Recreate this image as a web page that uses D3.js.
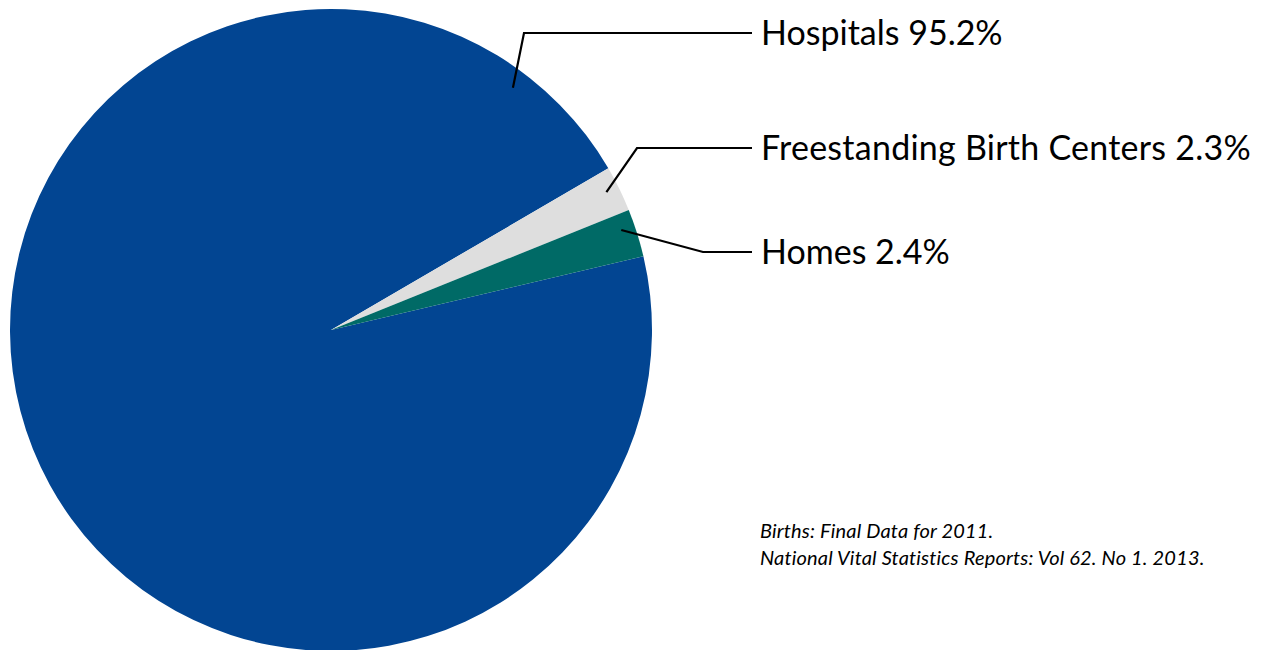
<!DOCTYPE html>
<html>
<head>
<meta charset="utf-8">
<script src="https://cdn.jsdelivr.net/npm/d3@7"></script>
<style>
  html, body { margin: 0; padding: 0; background: #ffffff; }
  svg { display: block; }
</style>
</head>
<body>
<svg id="chart" width="1261" height="650"></svg>
<script>
const categories = ["Hospitals", "Freestanding Birth Centers", "Homes"];
const values = [95.2, 2.3, 2.4];
const valueLabels = ["95.2%", "2.3%", "2.4%"];
const colors = ["#024592", "#dedede", "#006a66"];
const sourceLines = [
  "Births: Final Data for 2011.",
  "National Vital Statistics Reports: Vol 62. No 1. 2013."
];

const svg = d3.select("#chart");
const cx = 331, cy = 330, R = 321;
const deg = Math.PI / 180;
const start = -283.3 * deg;

const data = categories.map((c, i) => ({ name: c, value: values[i], label: valueLabels[i], color: colors[i] }));
const pie = d3.pie().sort(null).value(d => d.value).startAngle(start).endAngle(start + 2 * Math.PI);
const arcs = pie(data);
const arc = d3.arc().innerRadius(0).outerRadius(R);

const g = svg.append("g").attr("transform", `translate(${cx},${cy})`);
g.selectAll("path.slice").data(arcs).enter().append("path")
  .attr("class", "slice")
  .attr("d", arc)
  .attr("fill", d => d.data.color);

// leader lines: anchor angle inside slice, elbow, and label row
const labelX = 752;
const leader = [
  { ang: 36.9, r: 303, elbow: [524, 33], y: 33 },
  { ang: 63.4, r: 308, elbow: [637, 148], y: 148 },
  { ang: 71.0, r: 307, elbow: [703, 252], y: 252 }
];
arcs.forEach((a, i) => {
  const L = leader[i];
  const ang = L.ang * deg;
  const x0 = cx + L.r * Math.sin(ang), y0 = cy - L.r * Math.cos(ang);
  svg.append("path")
    .attr("d", d3.line()([[x0, y0], L.elbow, [labelX, L.y]]))
    .attr("fill", "none").attr("stroke", "#000").attr("stroke-width", 2.2);
  svg.append("text")
    .attr("x", 761).attr("y", L.y + 12)
    .attr("font-family", "Lato, 'Open Sans', sans-serif")
    .attr("font-size", 34)
    .attr("letter-spacing", i === 1 ? 0.25 : 0)
    .attr("fill", "#000")
    .text(`${a.data.name} ${a.data.label}`);
});

svg.selectAll("text.src").data(sourceLines).enter().append("text")
  .attr("class", "src")
  .attr("x", 760).attr("y", (d, i) => 538 + i * 27)
  .attr("font-family", "Lato, 'Open Sans', sans-serif")
  .attr("font-style", "italic")
  .attr("font-size", 20)
  .attr("letter-spacing", 0.18)
  .attr("fill", "#000")
  .text(d => d);
</script>
</body>
</html>
